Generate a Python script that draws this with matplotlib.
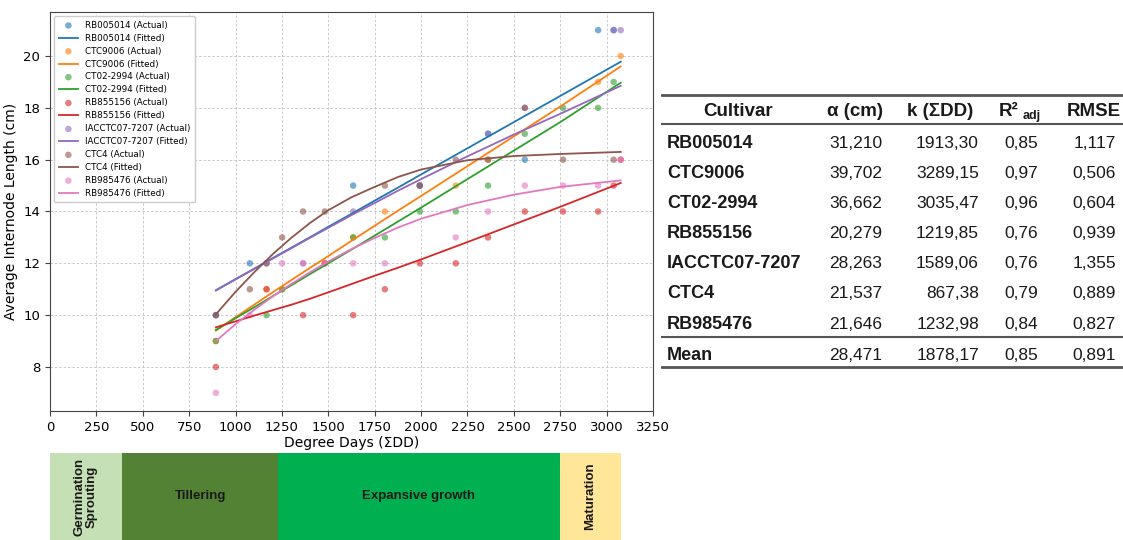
import matplotlib.pyplot as plt

# cultivares e cores (tab10)
cultivares = ['RB005014', 'CTC9006', 'CT02-2994', 'RB855156', 'IACCTC07-7207', 'CTC4', 'RB985476']
cores = ['#1f77b4', '#ff7f0e', '#2ca02c', '#d62728', '#9467bd', '#8c564b', '#e377c2']

# valores observados (graus-dia, cm)
dd_rb005014 = [894, 1077, 1634, 1993, 2361, 2559, 2954, 3038]
cm_rb005014 = [10, 12, 15, 15, 17, 16, 21, 21]
dd_ctc9006 = [894, 1167, 1251, 1481, 1634, 1805, 2187, 2361, 2954, 3076]
cm_ctc9006 = [9, 11, 11, 12, 13, 14, 15, 16, 19, 20]
dd_ct02 = [894, 1167, 1251, 1634, 1805, 1993, 2187, 2361, 2559, 2765, 2954, 3038]
cm_ct02 = [9, 10, 11, 13, 13, 14, 14, 15, 17, 18, 18, 19]
dd_rb855156 = [894, 1167, 1364, 1481, 1634, 1805, 1993, 2187, 2361, 2559, 2765, 2954, 3038, 3076]
cm_rb855156 = [8, 11, 10, 12, 10, 11, 12, 12, 13, 14, 14, 14, 15, 16]
dd_iac = [894, 1167, 1364, 1634, 1993, 2361, 2559, 3038, 3076]
cm_iac = [10, 12, 12, 14, 15, 17, 18, 21, 21]
dd_ctc4 = [894, 1077, 1167, 1251, 1364, 1481, 1805, 1993, 2187, 2361, 2559, 2765, 3038]
cm_ctc4 = [10, 11, 12, 13, 14, 14, 15, 15, 16, 16, 18, 16, 16]
dd_rb985476 = [894, 1077, 1251, 1364, 1481, 1634, 1805, 2187, 2361, 2559, 2765, 2954, 3076]
cm_rb985476 = [7, 10, 12, 12, 12, 12, 12, 13, 14, 15, 15, 15, 16]

# curvas ajustadas
dd_fit = [894, 1000, 1100, 1200, 1300, 1400, 1500, 1625, 1750, 1875, 2000, 2250, 2500, 2750, 3076]
fit_rb005014 = [10.96, 11.39, 11.79, 12.20, 12.60, 13.00, 13.41, 13.91, 14.42, 14.92, 15.43, 16.44, 17.45, 18.46, 19.78]
fit_ctc9006 = [9.40, 9.92, 10.40, 10.88, 11.35, 11.82, 12.28, 12.87, 13.45, 14.03, 14.60, 15.75, 16.90, 18.05, 19.60]
fit_ct02 = [9.43, 9.88, 10.30, 10.73, 11.15, 11.58, 12.00, 12.53, 13.07, 13.61, 14.15, 15.25, 16.35, 17.45, 18.97]
fit_rb855156 = [9.53, 9.76, 9.98, 10.19, 10.40, 10.63, 10.88, 11.20, 11.52, 11.83, 12.15, 12.82, 13.50, 14.18, 15.10]
fit_iac = [10.95, 11.38, 11.78, 12.18, 12.58, 12.98, 13.37, 13.86, 14.33, 14.80, 15.25, 16.13, 16.97, 17.77, 18.85]
fit_ctc4 = [10.03, 10.90, 11.65, 12.35, 12.98, 13.55, 14.05, 14.55, 14.95, 15.33, 15.62, 15.98, 16.14, 16.22, 16.30]
fit_rb985476 = [9.00, 9.65, 10.20, 10.72, 11.20, 11.65, 12.07, 12.55, 12.98, 13.38, 13.72, 14.25, 14.65, 14.95, 15.20]

# tabela de parametros
tab_cultivar = ['RB005014', 'CTC9006', 'CT02-2994', 'RB855156', 'IACCTC07-7207', 'CTC4', 'RB985476', 'Mean']
tab_alpha = ['31,210', '39,702', '36,662', '20,279', '28,263', '21,537', '21,646', '28,471']
tab_k = ['1913,30', '3289,15', '3035,47', '1219,85', '1589,06', '867,38', '1232,98', '1878,17']
tab_r2 = ['0,85', '0,97', '0,96', '0,76', '0,76', '0,79', '0,84', '0,85']
tab_rmse = ['1,117', '0,506', '0,604', '0,939', '1,355', '0,889', '0,827', '0,891']

# fases fenologicas (graus-dia)
fase_nomes = ['Germination\nSprouting', 'Tillering', 'Expansive growth', 'Maturation']
fase_inicio = [-10, 390, 1228, 2747]
fase_fim = [390, 1228, 2747, 3080]
fase_cores = ['#c5e0b4', '#548235', '#00b050', '#ffe699']

obs = [(dd_rb005014, cm_rb005014), (dd_ctc9006, cm_ctc9006), (dd_ct02, cm_ct02),
       (dd_rb855156, cm_rb855156), (dd_iac, cm_iac), (dd_ctc4, cm_ctc4),
       (dd_rb985476, cm_rb985476)]
fits = [fit_rb005014, fit_ctc9006, fit_ct02, fit_rb855156, fit_iac, fit_ctc4, fit_rb985476]

W, H = 1123, 540
fig = plt.figure(figsize=(W / 100, H / 100), dpi=100)

ax = fig.add_axes([50 / W, 129 / H, 603 / W, 399 / H])
for nome, cor, (dd, cm), fit in zip(cultivares, cores, obs, fits):
    ax.scatter(dd, cm, s=22, color=cor, alpha=0.6, edgecolors='none', label=f'{nome} (Actual)')
    ax.plot(dd_fit, fit, color=cor, lw=1.3, label=f'{nome} (Fitted)')

ax.set_xlim(0, 3250)
ax.set_xticks(range(0, 3251, 250))
ax.set_yticks(range(8, 21, 2))
ax.grid(True, linestyle=(0, (2.5, 2)), color='#c8c8c8', lw=0.7)
ax.set_axisbelow(True)
ax.tick_params(labelsize=9.5, color='#444444')
for sp in ax.spines.values():
    sp.set_color('#444444')
ax.set_xlabel('Degree Days (ΣDD)', fontsize=10, labelpad=2)
ax.set_ylabel('Average Internode Length (cm)', fontsize=10, labelpad=4)
ax.legend(loc='upper left', fontsize=6.3, labelspacing=0.45, handlelength=2.2,
          borderpad=0.5, framealpha=1, edgecolor='#cccccc')

# barra das fases
ax_f = fig.add_axes([50 / W, 0, 603 / W, 87 / H])
ax_f.set_xlim(0, 3250)
ax_f.set_ylim(0, 1)
ax_f.axis('off')
larguras = [f - i for i, f in zip(fase_inicio, fase_fim)]
ax_f.bar(fase_inicio, 1, width=larguras, align='edge', color=fase_cores, edgecolor='none')
for nome, i, f in zip(fase_nomes, fase_inicio, fase_fim):
    rot = 90 if nome in ('Germination\nSprouting', 'Maturation') else 0
    ax_f.text((i + f) / 2, 0.5, nome, rotation=rot, ha='center', va='center',
              fontsize=9.5, fontweight='bold', family='Liberation Sans', color='#1a1a1a',
              linespacing=1.0)

# tabela
ax_t = fig.add_axes([655 / W, 0, (W - 655) / W, 1])
ax_t.set_xlim(655, W)
ax_t.set_ylim(H, 0)
ax_t.axis('off')
fonte = dict(family='Liberation Sans', color='#1a1a1a')
ax_t.plot([662, W], [95, 95], color='#555555', lw=2)
ax_t.plot([662, W], [124, 124], color='#555555', lw=1.5)
ax_t.plot([662, W], [337, 337], color='#555555', lw=1.5)
ax_t.plot([662, W], [367, 367], color='#555555', lw=2)

ax_t.text(738, 111, 'Cultivar', ha='center', va='center', fontsize=13.5, fontweight='bold', **fonte)
ax_t.text(855, 111, 'α (cm)', ha='center', va='center', fontsize=13.5, fontweight='bold', **fonte)
ax_t.text(940, 111, 'k (ΣDD)', ha='center', va='center', fontsize=13.5, fontweight='bold', **fonte)
ax_t.text(999, 111, 'R²', ha='left', va='center', fontsize=13.5, fontweight='bold', **fonte)
ax_t.text(1023, 116, 'adj', ha='left', va='center', fontsize=9, fontweight='bold', **fonte)
ax_t.text(1094, 111, 'RMSE', ha='center', va='center', fontsize=13.5, fontweight='bold', **fonte)

for i, nome in enumerate(tab_cultivar):
    y = 143 + 30.2 * i if i < 7 else 355
    ax_t.text(667, y, nome, ha='left', va='center', fontsize=13, fontweight='bold', **fonte)
    ax_t.text(882, y, tab_alpha[i], ha='right', va='center', fontsize=12.5, **fonte)
    ax_t.text(979, y, tab_k[i], ha='right', va='center', fontsize=12.5, **fonte)
    ax_t.text(1038, y, tab_r2[i], ha='right', va='center', fontsize=12.5, **fonte)
    ax_t.text(1116, y, tab_rmse[i], ha='right', va='center', fontsize=12.5, **fonte)

fig.savefig('out.png', dpi=100)
